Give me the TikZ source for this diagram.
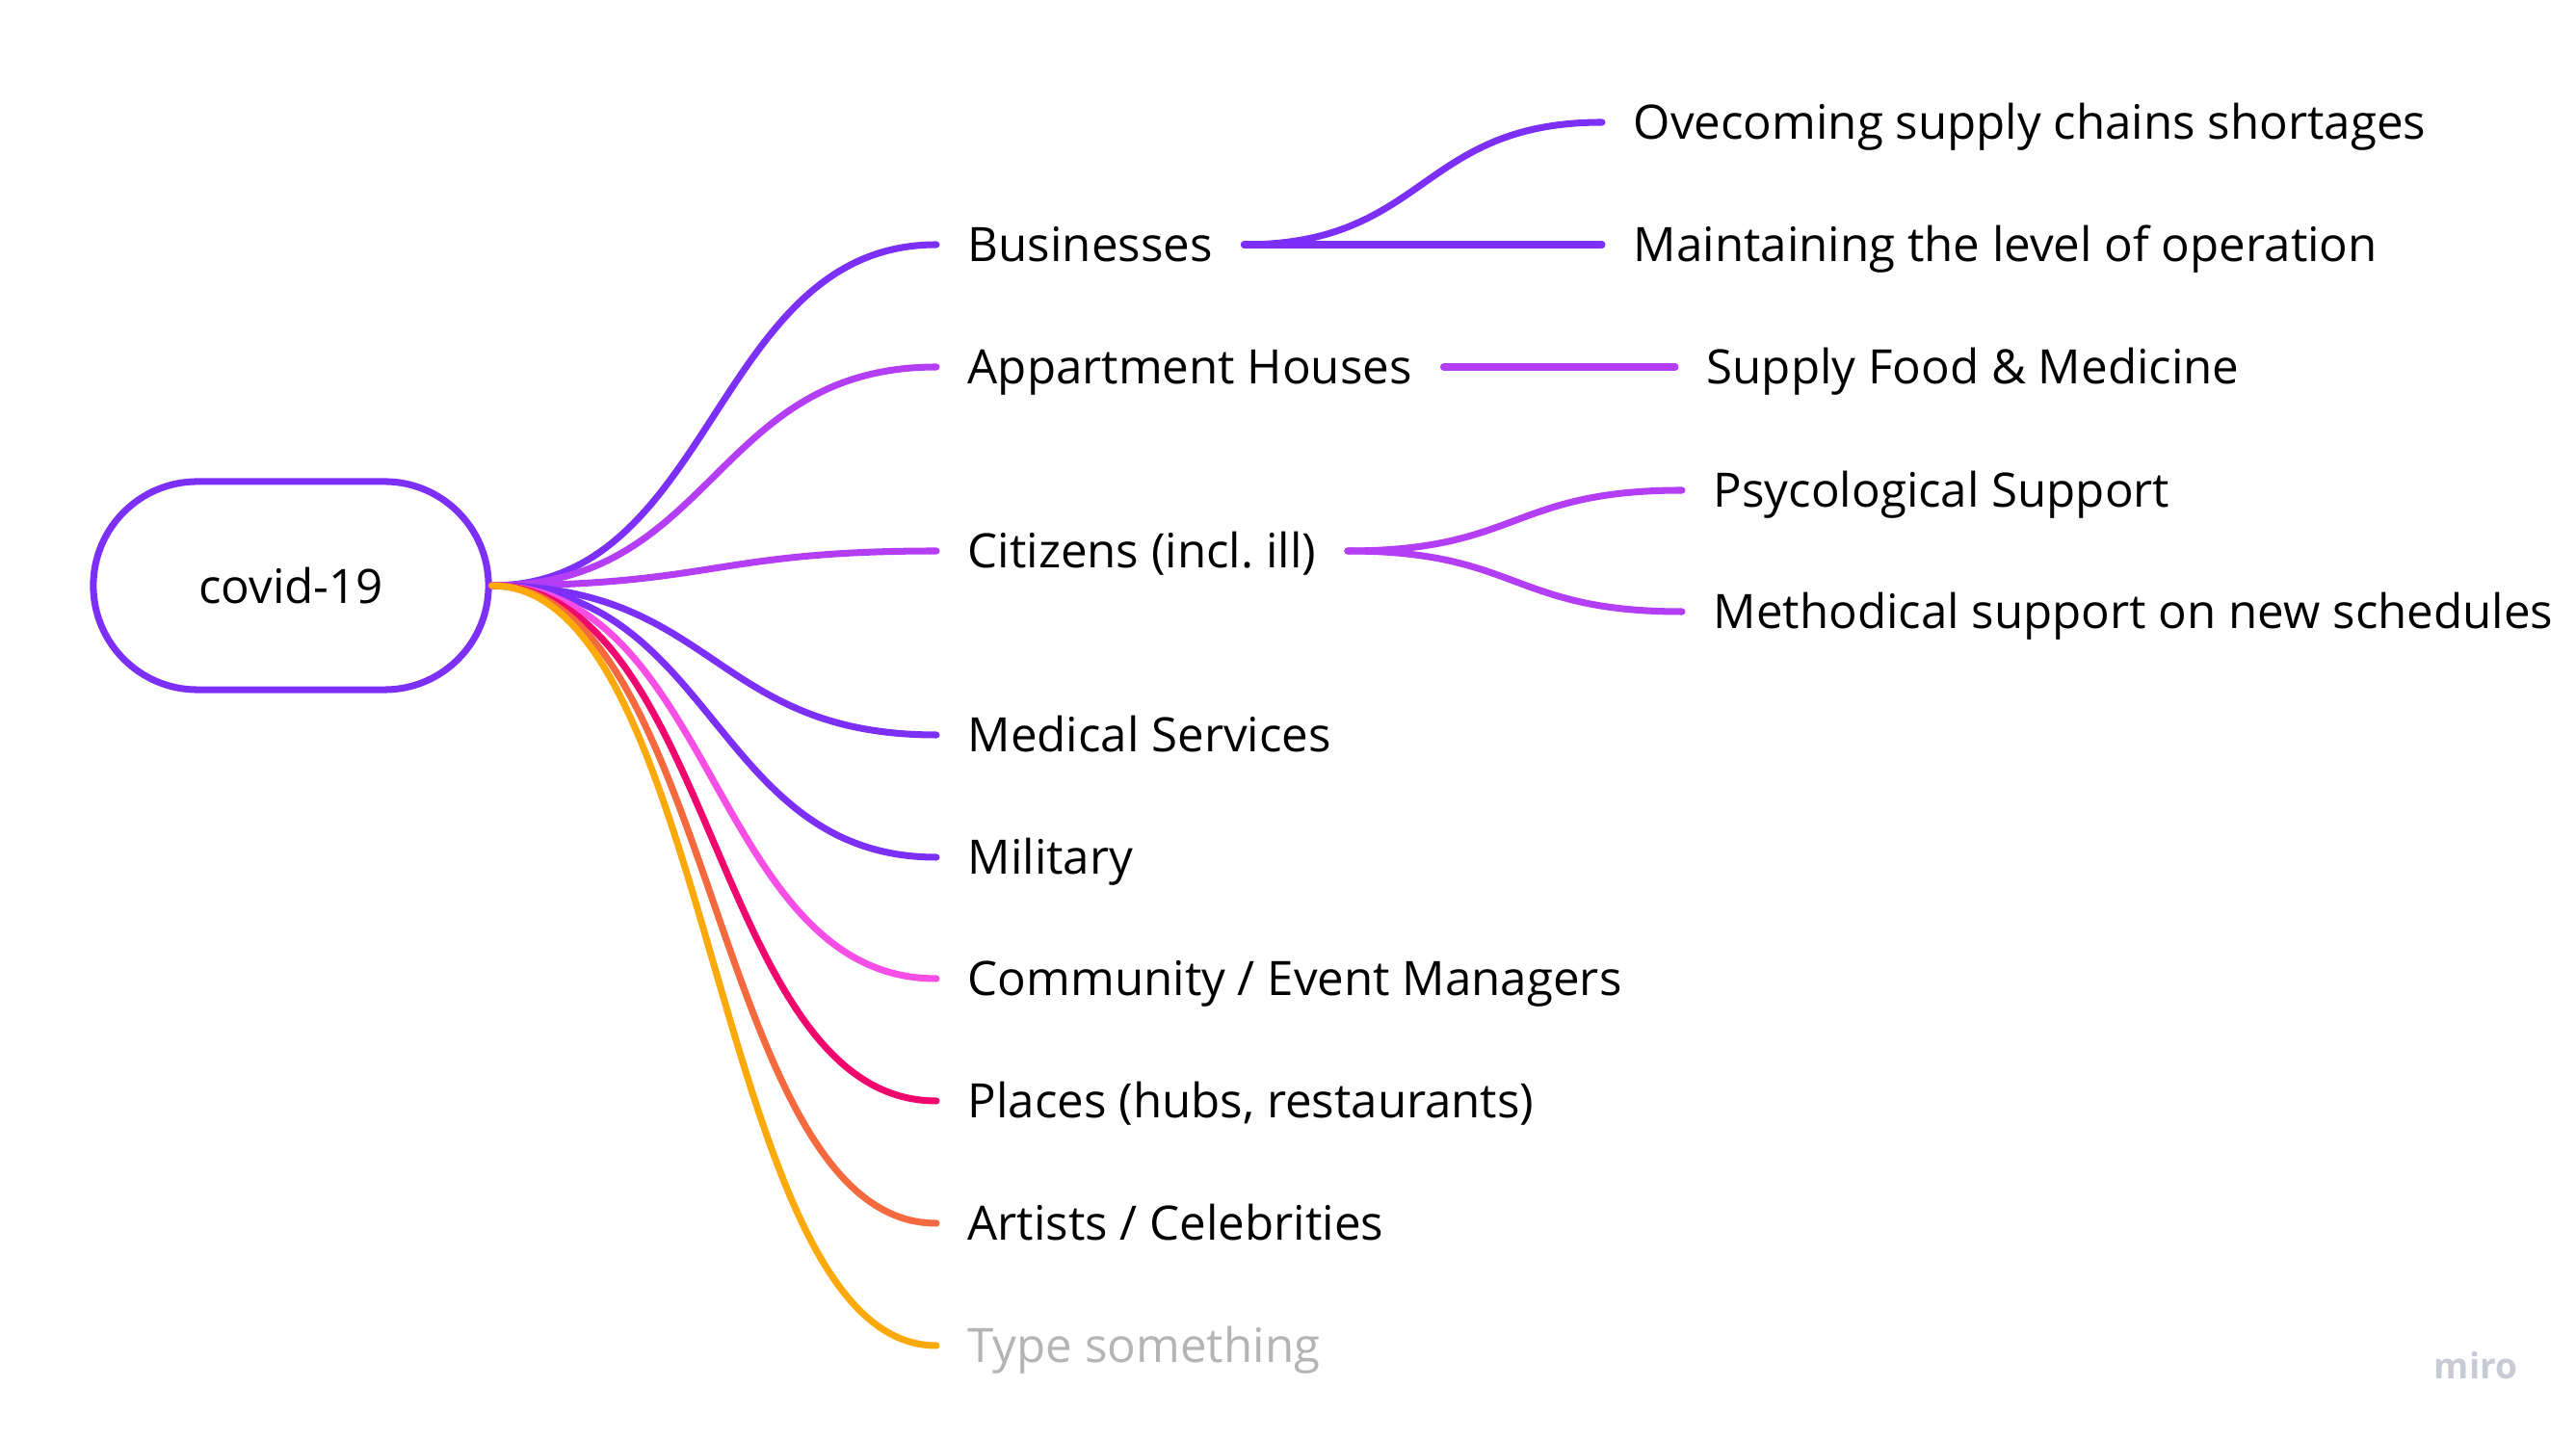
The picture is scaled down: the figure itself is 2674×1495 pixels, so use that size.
\documentclass[tikz,border=0pt]{standalone}
\usepackage{fontspec}
\setmainfont{Open Sans}
\usepackage{tikz}
\usetikzlibrary{positioning}
\usepackage{xcolor}
\definecolor{mindviolet}{HTML}{7B2FF7}
\definecolor{mindorchid}{HTML}{B43DF6}
\definecolor{mindpink}{HTML}{F74FE6}
\definecolor{mindcrimson}{HTML}{F0066C}
\definecolor{mindcoral}{HTML}{F5693F}
\definecolor{mindamber}{HTML}{FCAA0A}
\definecolor{hinttext}{HTML}{B4B4B4}
\definecolor{watermark}{HTML}{C8CAD6}
\frenchspacing
\tikzset{
    treefont/.style={font=\fontsize{14}{17}\selectfont},
    node_root/.style={treefont, draw=mindviolet, line width=2pt, rounded corners=1.08cm, minimum width=4.1cm, minimum height=2.16cm},
    node_topic/.style={treefont, anchor=west, inner xsep=0.32cm, inner ysep=0pt, text height=10pt, text depth=0pt},
    node_leaf/.style={node_topic},
    edge_branch/.style={line width=2pt, line cap=round}
}
\begin{document}
\begin{tikzpicture}[x=0.01cm, y=-0.01cm]
    \useasboundingbox (0,0) rectangle (2674,1495);
    \node[node_root](root) at (302,608){covid-19};
    \node[node_topic](business) at (972,254){Businesses};
    \node[node_topic](housing) at (972,381){Appartment Houses};
    \node[node_topic](citizen) at (972,572){Citizens (incl. ill)};
    \node[node_topic](medical) at (972,763){Medical Services};
    \node[node_topic](military) at (972,890){Military};
    \node[node_topic](community) at (972,1016){Community / Event Managers};
    \node[node_topic](places) at (972,1143){Places (hubs, restaurants)};
    \node[node_topic](artists) at (972,1270){Artists / Celebrities};
    \node[node_topic, text=hinttext](blank) at (972,1397){Type something};
    \node[node_leaf](shortage) at (1663,127){Ovecoming supply chains shortages};
    \node[node_leaf](operation) at (1663,254){Maintaining the level of operation};
    \node[node_leaf](supply) at (1739,381){Supply Food \& Medicine};
    \node[node_leaf](psych) at (1746,509){Psycological Support};
    \node[node_leaf](method) at (1746,635){Methodical support on new schedules};
    \node[font=\bfseries\fontsize{10.5}{12}\selectfont, text=watermark](miro) at (2570,1418){miro};
    \foreach \target/\col in {business/mindviolet, housing/mindorchid, citizen/mindorchid, medical/mindviolet, military/mindviolet, community/mindpink, places/mindcrimson, artists/mindcoral, blank/mindamber}
        \draw[edge_branch, \col] (root.east) .. controls +(232,0) and +(-232,0) .. (\target.west);
    \draw[edge_branch, mindviolet] (business.east) .. controls +(190,0) and +(-190,0) .. (shortage.west);
    \draw[edge_branch, mindviolet] (business.east) -- (operation.west);
    \draw[edge_branch, mindorchid] (housing.east) -- (supply.west);
    \draw[edge_branch, mindorchid] (citizen.east) .. controls +(178,0) and +(-178,0) .. (psych.west);
    \draw[edge_branch, mindorchid] (citizen.east) .. controls +(178,0) and +(-178,0) .. (method.west);
\end{tikzpicture}
\end{document}
